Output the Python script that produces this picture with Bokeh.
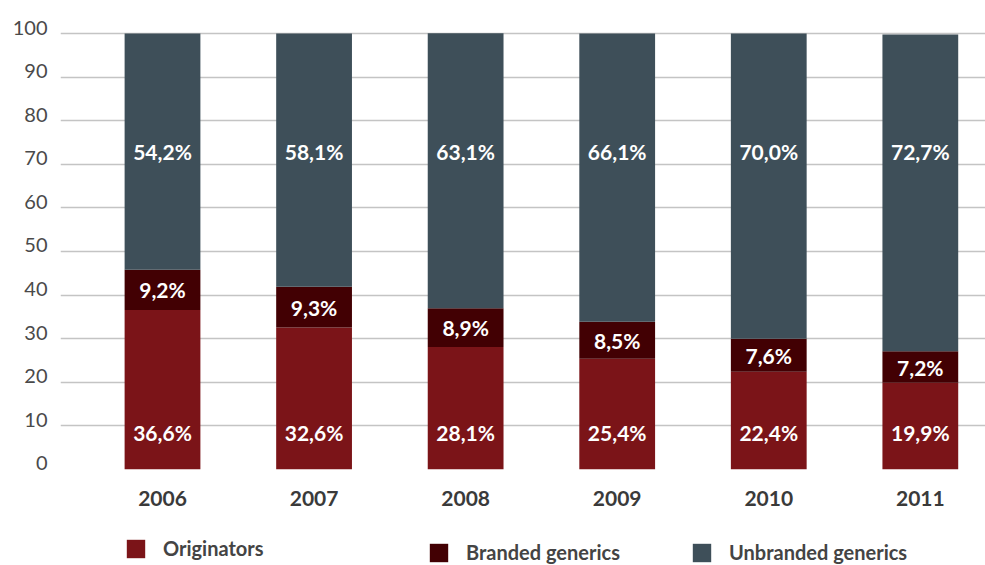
from bokeh.plotting import figure
from bokeh.layouts import column
from bokeh.models import (ColumnDataSource, Range1d, FixedTicker, Legend, LegendItem,
                          LinearAxis, Grid)
from bokeh.core.properties import value
from bokeh.embed import file_html
from bokeh.resources import INLINE

years = [2006, 2007, 2008, 2009, 2010, 2011]
year_labels = ["2006", "2007", "2008", "2009", "2010", "2011"]
originators = [36.6, 32.6, 28.1, 25.4, 22.4, 19.9]
branded = [9.2, 9.3, 8.9, 8.5, 7.6, 7.2]
unbranded = [54.2, 58.1, 63.1, 66.1, 70.0, 72.7]
series_names = ["Originators", "Branded generics", "Unbranded generics"]
colors = ["#7b1418", "#420003", "#3e4f59"]
y_ticks = [0, 10, 20, 30, 40, 50, 60, 70, 80, 90, 100]

def fmt(v):
    return ("%.1f%%" % v).replace(".", ",")

b0 = [0.0] * len(years)
b1 = originators
b2 = [o + b for o, b in zip(originators, branded)]
t2 = [s + u for s, u in zip(b2, unbranded)]

src = ColumnDataSource(dict(
    x=years, b0=b0, b1=b1, b2=b2, t2=t2,
    lo=[fmt(v) for v in originators],
    lb=[fmt(v) for v in branded],
    lu=[fmt(v) for v in unbranded],
    yo=[8.5] * len(years),
    yb=[(a + c) / 2 for a, c in zip(b1, b2)],
    yu=[73.0] * len(years),
))

lab_shift = 1.4  # tick labels sit slightly above their grid lines
p = figure(width=985, height=525, output_backend="svg", toolbar_location=None,
           x_range=Range1d(2005.327, 2011.43), y_range=Range1d(0, 100 + lab_shift),
           y_axis_location=None,
           min_border_left=60, min_border_right=0, min_border_top=27,
           min_border_bottom=56)
p.outline_line_color = None
p.extra_y_ranges = {"lab": Range1d(-lab_shift, 100)}

w = 0.5
p.vbar(x="x", bottom="b0", top="b1", width=w, source=src, fill_color=colors[0], line_color=None)
p.vbar(x="x", bottom="b1", top="b2", width=w, source=src, fill_color=colors[1], line_color=None)
p.vbar(x="x", bottom="b2", top="t2", width=w, source=src, fill_color=colors[2], line_color=None)

font = value("Lato")
for col, ycol in (("lo", "yo"), ("lb", "yb"), ("lu", "yu")):
    p.text(x="x", y=ycol, text=col, source=src, text_color="white",
           text_font=font, text_font_size="21px", text_font_style="bold",
           text_align="center", text_baseline="middle")

for g in p.grid:
    g.visible = False
grid = Grid(dimension=1, ticker=FixedTicker(ticks=y_ticks),
            grid_line_color="#c4c4c4", grid_line_width=1.5, level="underlay")
p.add_layout(grid)

ya = LinearAxis(y_range_name="lab", ticker=FixedTicker(ticks=y_ticks))
ya.axis_line_color = None
ya.major_tick_line_color = None
ya.minor_tick_line_color = None
ya.major_label_text_font = "Lato"
ya.major_label_text_font_size = "20px"
ya.major_label_text_color = "#4a4a4a"
ya.major_label_standoff = 7
p.add_layout(ya, "left")

p.xaxis.ticker = FixedTicker(ticks=years)
p.xaxis.major_label_overrides = {y: l for y, l in zip(years, year_labels)}
p.xaxis.axis_line_color = None
p.xaxis.major_tick_line_color = None
p.xaxis.minor_tick_line_color = None
p.xaxis.major_label_text_font = "Lato"
p.xaxis.major_label_text_font_size = "21px"
p.xaxis.major_label_text_font_style = "bold"
p.xaxis.major_label_text_color = "#3a3a3a"
p.xaxis.major_label_standoff = 15

# legend strip
lp = figure(width=985, height=40, output_backend="svg", toolbar_location=None,
            x_range=Range1d(0, 1), y_range=Range1d(0, 1),
            min_border_left=0, min_border_right=0, min_border_top=0, min_border_bottom=0)
lp.outline_line_color = None
lp.axis.visible = False
lp.grid.visible = False
dummy = ColumnDataSource(dict(x=[5], t=[5]))
rs = [lp.vbar(x="x", top="t", width=1, source=dummy, fill_color=c, line_color=None) for c in colors]

for name, r, loc in zip(series_names, rs, [(64, 5), (367, 1), (630, 1)]):
    lg = Legend(items=[LegendItem(label=name, renderers=[r])], location=loc,
                orientation="horizontal", border_line_color=None,
                background_fill_alpha=0, padding=0, margin=0, spacing=0,
                glyph_width=23, glyph_height=23, label_standoff=16,
                label_text_font="Lato", label_text_font_size="20px",
                label_text_font_style="bold", label_text_color="#444444")
    lp.add_layout(lg, "center")

open("out.html", "w").write(file_html(column(p, lp, spacing=0), INLINE))
